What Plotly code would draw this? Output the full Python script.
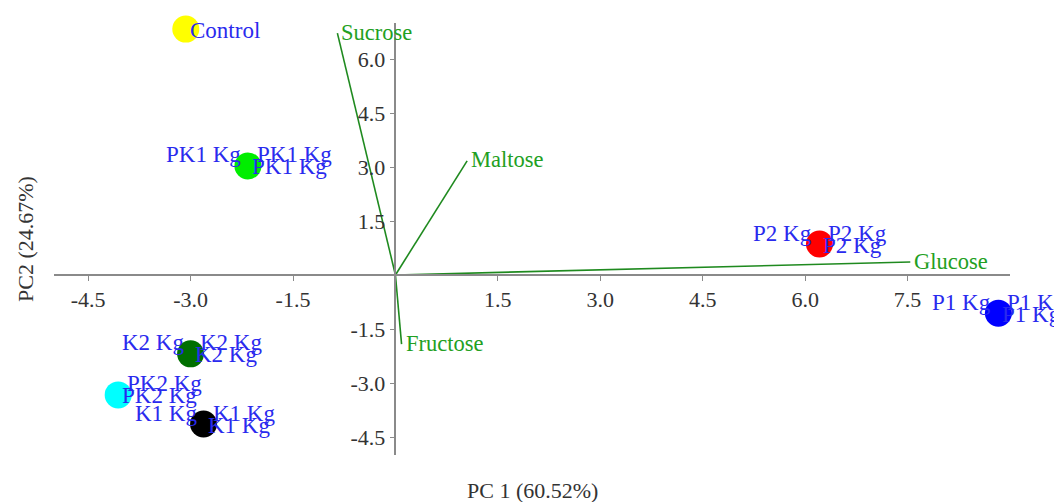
import plotly.graph_objects as go

# ---- data ----
groups = ["Control", "PK1 Kg", "K2 Kg", "PK2 Kg", "K1 Kg", "P2 Kg", "P1 Kg"]
pc1 = [-3.07, -2.16, -3.00, -4.06, -2.81, 6.21, 8.83]
pc2 = [6.83, 3.03, -2.19, -3.33, -4.14, 0.86, -1.06]
colors = ["#ffff00", "#00ee00", "#006f00", "#00ffff", "#000000", "#ff0000", "#0000ff"]
# which replicate labels are shown for each group (left / right-upper / right-lower)
label_slots = [["r2"], ["l", "r1", "r2"], ["l", "r1", "r2"], ["r1", "r2"],
               ["l", "r1", "r2"], ["l", "r1", "r2"], ["l", "r1", "r2"]]

variables = ["Sucrose", "Maltose", "Glucose", "Fructose"]
load_x = [-0.85, 1.05, 7.54, 0.09]
load_y = [6.72, 3.17, 0.36, -1.92]

x_ticks = [-4.5, -3.0, -1.5, 1.5, 3.0, 4.5, 6.0, 7.5]
y_ticks = [-4.5, -3.0, -1.5, 1.5, 3.0, 4.5, 6.0]
x_range = [-5.0, 9.0]
y_range = [-5.0, 7.0]
x_title = "PC 1 (60.52%)"
y_title = "PC2 (24.67%)"

# ---- style ----
FONT = "Liberation Serif"
LABEL_BLUE = "#2a2aee"
GREEN_LINE = "#1f8a1f"
GREEN_TEXT = "#22a022"
slot_style = {
    "l": dict(xanchor="right", xshift=-5, yshift=11),
    "r1": dict(xanchor="left", xshift=7, yshift=11),
    "r2": dict(xanchor="left", xshift=2, yshift=-1),
}

fig = go.Figure()

# loading vectors
for name, lx, ly in zip(variables, load_x, load_y):
    fig.add_trace(go.Scatter(x=[0, lx], y=[0, ly], mode="lines",
                             line=dict(color=GREEN_LINE, width=1.6),
                             hoverinfo="skip", showlegend=False))

# score points
fig.add_trace(go.Scatter(x=pc1, y=pc2, mode="markers", cliponaxis=False,
                         marker=dict(size=27, color=colors, line=dict(width=0)),
                         text=groups, showlegend=False))

annotations = []
for g, x, y, slots in zip(groups, pc1, pc2, label_slots):
    for s in slots:
        st = slot_style[s]
        annotations.append(dict(x=x, y=y, text=g, showarrow=False,
                                xanchor=st["xanchor"], yanchor="middle",
                                xshift=st["xshift"], yshift=st["yshift"],
                                font=dict(family=FONT, size=23, color=LABEL_BLUE)))
for name, lx, ly in zip(variables, load_x, load_y):
    annotations.append(dict(x=lx, y=ly, text=name, showarrow=False,
                            xanchor="left", yanchor="middle", xshift=2, yshift=1,
                            font=dict(family=FONT, size=22.5, color=GREEN_TEXT)))

# axis titles
annotations.append(dict(x=0.5, y=0, xref="paper", yref="paper",
                        text=x_title, showarrow=False, xanchor="center", yanchor="middle",
                        yshift=-35,
                        font=dict(family=FONT, size=22, color="#333333")))
annotations.append(dict(x=0, y=0.5, xref="paper", yref="paper", text=y_title,
                        showarrow=False, textangle=-90, xanchor="center", yanchor="middle",
                        xshift=-29,
                        font=dict(family=FONT, size=22, color="#333333")))

xpos = (0 - y_range[0]) / (y_range[1] - y_range[0])
ypos = (0 - x_range[0]) / (x_range[1] - x_range[0])

fig.update_layout(
    width=1062, height=502,
    margin=dict(l=46, r=60, t=15, b=55),
    paper_bgcolor="white", plot_bgcolor="white",
    font=dict(family=FONT, color="#333333", size=22),
    annotations=annotations,
    xaxis=dict(range=x_range, anchor="free", position=xpos, showline=True,
               linecolor="#8a8a8a", linewidth=1.5, ticks="outside", ticklen=5,
               tickcolor="#8a8a8a", tickvals=x_ticks,
               ticktext=[f"{v:.1f}" for v in x_ticks], showgrid=False, zeroline=False,
               tickfont=dict(family=FONT, size=22, color="#333333")),
    yaxis=dict(range=y_range, anchor="free", position=ypos, showline=True,
               linecolor="#8a8a8a", linewidth=1.5, ticks="outside", ticklen=5,
               tickcolor="#8a8a8a", tickvals=y_ticks,
               ticktext=[f"{v:.1f}" for v in y_ticks], showgrid=False, zeroline=False,
               tickfont=dict(family=FONT, size=22, color="#333333")),
    showlegend=False,
)

fig.write_html("out.html")
